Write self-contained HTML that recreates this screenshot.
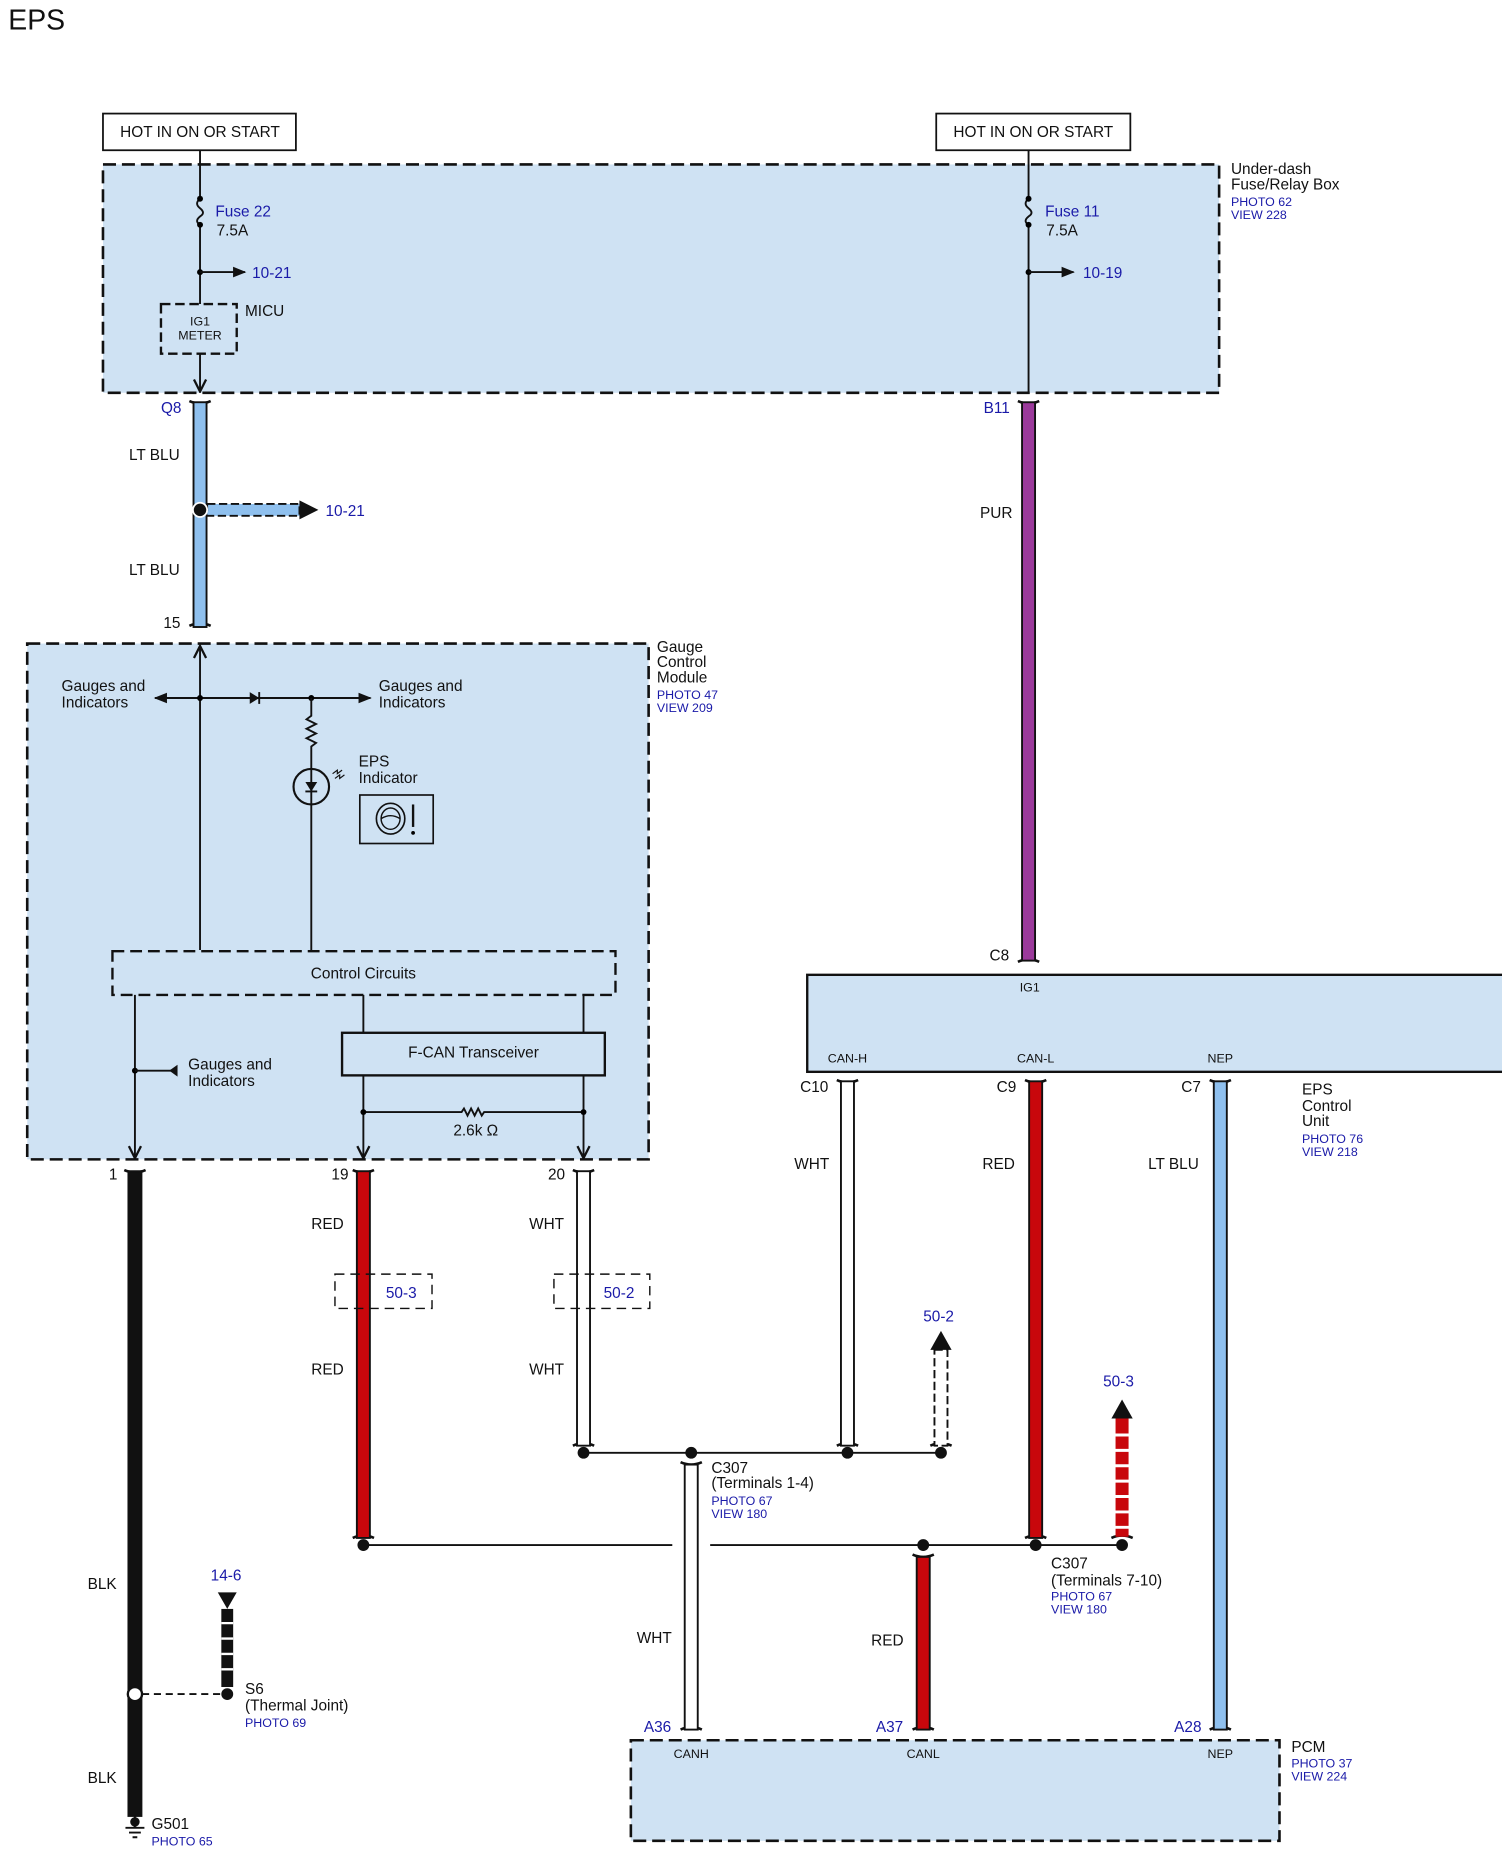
<!DOCTYPE html>
<html><head><meta charset="utf-8"><style>
html,body{margin:0;padding:0;background:#fff}
svg{display:block}
text{font-family:"Liberation Sans",Arial,sans-serif;font-size:13px;fill:#111}
.b{fill:#1a1aa8}
.s{font-size:10.5px}
.box{fill:#cfe2f3;stroke:#111;stroke-width:2.2;stroke-dasharray:11 5}
.ln{stroke:#111;stroke-width:1.6;fill:none}
</style></head><body>
<svg width="1502" height="1855" viewBox="0 0 1269 1568" preserveAspectRatio="none" xmlns="http://www.w3.org/2000/svg">
<defs>
<marker id="ah" viewBox="0 0 10 10" refX="9" refY="5" markerWidth="7" markerHeight="7" orient="auto"><path d="M0,1 L10,5 L0,9 z" fill="#111"/></marker>
<marker id="oa" viewBox="0 0 10 10" refX="9" refY="5" markerWidth="8" markerHeight="8" orient="auto"><path d="M1,1 L9,5 L1,9" fill="none" stroke="#111" stroke-width="1.5"/></marker>
</defs>
<text x="7" y="25" style="font-size:24px">EPS</text>

<rect x="87" y="96" width="163" height="31" fill="#fff" stroke="#111" stroke-width="1.5"/>
<text x="169" y="116" text-anchor="middle">HOT IN ON OR START</text>
<rect x="791" y="96" width="164" height="31" fill="#fff" stroke="#111" stroke-width="1.5"/>
<text x="873" y="116" text-anchor="middle">HOT IN ON OR START</text>

<rect class="box" x="87" y="139" width="943" height="193"/>
<text x="1040" y="147">Under-dash</text><text x="1040" y="160">Fuse/Relay Box</text>
<text x="1040" y="174" class="b s">PHOTO 62</text><text x="1040" y="185" class="b s">VIEW 228</text>

<g>
<path class="ln" d="M169,127 V168 M169,190 V257"/>
<path class="ln" d="M169,168 q-5,4 0,8 q5,4 0,7 q-5,4 0,7"/>
<circle cx="169" cy="168" r="2.5"/><circle cx="169" cy="190" r="2.5"/>
<text x="182" y="183" class="b">Fuse 22</text><text x="183" y="199">7.5A</text>
<circle cx="169" cy="230" r="2.5"/><path class="ln" d="M169,230 H207" marker-end="url(#ah)"/>
<text x="213" y="235" class="b">10-21</text>
<rect x="136" y="257" width="64" height="42" fill="none" stroke="#111" stroke-width="2" stroke-dasharray="8 4"/>
<text x="169" y="275" class="s" text-anchor="middle">IG1</text><text x="169" y="287" class="s" text-anchor="middle">METER</text>
<text x="207" y="267">MICU</text>
<path class="ln" d="M169,299 V331" marker-end="url(#oa)"/>
</g>
<g>
<path class="ln" d="M869,127 V168 M869,190 V332"/>
<path class="ln" d="M869,168 q-5,4 0,8 q5,4 0,7 q-5,4 0,7"/>
<circle cx="869" cy="168" r="2.5"/><circle cx="869" cy="190" r="2.5"/>
<text x="883" y="183" class="b">Fuse 11</text><text x="884" y="199">7.5A</text>
<circle cx="869" cy="230" r="2.5"/><path class="ln" d="M869,230 H907" marker-end="url(#ah)"/>
<text x="915" y="235" class="b">10-19</text>
</g>

<g stroke="#111" stroke-width="2.2" fill="none">
<path d="M160,339 q9,4 18,0"/><path d="M160,529 q9,-4 18,0"/>
<path d="M860,339 q9,4 18,0"/><path d="M860,813 q9,-4 18,0"/>
<path d="M105,989 q9,4 18,0"/><path d="M298,989 q9,4 18,0"/><path d="M484,989 q9,4 18,0"/>
<path d="M707,913 q9,4 18,0"/><path d="M866,913 q9,4 18,0"/><path d="M1022,913 q9,4 18,0"/>
<path d="M484,1222 q9,-4 18,0"/><path d="M707,1222 q9,-4 18,0"/><path d="M786,1222 q9,-4 18,0"/>
<path d="M298,1300 q9,-4 18,0"/><path d="M866,1300 q9,-4 18,0"/><path d="M939,1300 q9,-4 18,0"/>
<path d="M575,1236 q9,4 18,0"/><path d="M771,1314 q9,4 18,0"/>
<path d="M575,1462 q9,-4 18,0"/><path d="M771,1462 q9,-4 18,0"/><path d="M1022,1462 q9,-4 18,0"/>
</g>

<rect x="163.5" y="340" width="11" height="190" fill="#8fc0ee" stroke="#111" stroke-width="1.6"/>
<text x="136" y="349" class="b">Q8</text>
<text x="109" y="389">LT BLU</text><text x="109" y="486">LT BLU</text>
<text x="138" y="531">15</text>
<rect x="175" y="426" width="78" height="10" fill="#8fc0ee" stroke="#111" stroke-width="1.6" stroke-dasharray="7 3"/>
<path d="M253,423 L269,431 L253,439 z" fill="#111"/>
<circle cx="169" cy="431" r="6" fill="#111" stroke="#fff" stroke-width="1.5"/>
<text x="275" y="436" class="b">10-21</text>

<rect x="863.5" y="340" width="11" height="472" fill="#9b3a9b" stroke="#111" stroke-width="1.6"/>
<text x="831" y="349" class="b">B11</text><text x="828" y="438">PUR</text>
<text x="836" y="812">C8</text>

<rect class="box" x="23" y="544" width="525" height="436"/>
<text x="555" y="551">Gauge</text><text x="555" y="564">Control</text><text x="555" y="577">Module</text>
<text x="555" y="591" class="b s">PHOTO 47</text><text x="555" y="602" class="b s">VIEW 209</text>
<path class="ln" d="M169,803 V546" marker-end="url(#oa)"/>
<path class="ln" d="M169,590 H131" marker-end="url(#ah)"/>
<path class="ln" d="M169,590 H313" marker-end="url(#ah)"/>
<path d="M211,585 L219,590 L211,595 z" fill="#111"/><path class="ln" d="M219,585 V595"/>
<circle cx="169" cy="590" r="2.5"/><circle cx="263" cy="590" r="2.5"/>
<path class="ln" d="M263,590 V605 l-4,3 l8,4 l-8,4 l8,4 l-8,4 l8,4 l-4,3 V650 M263,680 V803"/>
<circle cx="263" cy="665" r="15" fill="none" stroke="#111" stroke-width="1.8"/>
<path class="ln" d="M263,650 V680"/><path d="M258,661 L268,661 L263,669 z" fill="#111"/><path class="ln" d="M258,669 H268"/>
<path class="ln" d="M281,654 l4,-3 l0,3 l4,-3 M283,658 l4,-3 l0,3 l4,-3" style="stroke-width:1"/>
<text x="52" y="584">Gauges and</text><text x="52" y="598">Indicators</text>
<text x="320" y="584">Gauges and</text><text x="320" y="598">Indicators</text>
<text x="303" y="648">EPS</text><text x="303" y="662">Indicator</text>
<rect x="304" y="672" width="62" height="41" fill="none" stroke="#111" stroke-width="1.4"/>
<ellipse cx="330" cy="692" rx="12" ry="13" fill="none" stroke="#111" stroke-width="1.4"/>
<ellipse cx="330" cy="692" rx="8" ry="9" fill="none" stroke="#111" stroke-width="1.2"/>
<path class="ln" d="M322,692 q8,-5 16,0" style="stroke-width:1.2"/>
<path class="ln" d="M349,680 V699" style="stroke-width:2"/><circle cx="349" cy="704" r="1.6"/>
<rect x="95" y="804" width="425" height="37" fill="none" stroke="#111" stroke-width="2" stroke-dasharray="10 5"/>
<text x="307" y="827" text-anchor="middle">Control Circuits</text>
<path class="ln" d="M114,841 V979" marker-end="url(#oa)"/>
<circle cx="114" cy="905" r="2.5"/><path class="ln" d="M114,905 H146"/>
<path d="M150,900 L143,905 L150,910 z" fill="#111"/>
<text x="159" y="904">Gauges and</text><text x="159" y="918">Indicators</text>
<path class="ln" d="M307,841 V873 M493,841 V873"/>
<rect x="289" y="873" width="222" height="36" fill="none" stroke="#111" stroke-width="2"/>
<text x="400" y="894" text-anchor="middle">F-CAN Transceiver</text>
<path class="ln" d="M307,909 V979" marker-end="url(#oa)"/><path class="ln" d="M493,909 V979" marker-end="url(#oa)"/>
<path class="ln" d="M307,940 H390 l2,-3 l3,6 l3,-6 l3,6 l3,-6 l3,6 l2,-3 H493"/>
<circle cx="307" cy="940" r="2.5"/><circle cx="493" cy="940" r="2.5"/>
<text x="383" y="960">2.6k Ω</text>
<text x="92" y="997">1</text><text x="280" y="997">19</text><text x="463" y="997">20</text>

<rect x="108.5" y="990" width="11" height="545" fill="#111" stroke="#111" stroke-width="1.6"/>
<text x="74" y="1343">BLK</text><text x="74" y="1507">BLK</text>
<path class="ln" d="M120,1432 H188" style="stroke-dasharray:6 4"/>
<circle cx="114" cy="1432" r="6" fill="#fff" stroke="#111" stroke-width="2"/>
<circle cx="192" cy="1432" r="5" fill="#111"/>
<rect x="187" y="1360" width="10" height="66" fill="#111"/>
<g stroke="#fff" stroke-width="2"><path d="M187,1372 H197 M187,1385 H197 M187,1398 H197 M187,1411 H197"/></g>
<path d="M184,1346 L200,1346 L192,1360 z" fill="#111"/>
<text x="178" y="1336" class="b">14-6</text>
<text x="207" y="1432">S6</text><text x="207" y="1446">(Thermal Joint)</text><text x="207" y="1460" class="b s">PHOTO 69</text>
<path class="ln" d="M114,1535 V1545 M106,1545 H122 M109,1549 H119 M112,1553 H116" style="stroke-width:1.6"/>
<circle cx="114" cy="1540" r="4" fill="#111"/>
<text x="128" y="1546">G501</text><text x="128" y="1560" class="b s">PHOTO 65</text>

<rect x="301.5" y="990" width="11" height="310" fill="#c8070c" stroke="#111" stroke-width="1.6"/>
<text x="263" y="1039">RED</text><text x="263" y="1162">RED</text>
<rect x="283" y="1077" width="82" height="29" fill="none" stroke="#111" stroke-width="1.2" stroke-dasharray="8 5"/>
<text x="326" y="1097" class="b">50-3</text>
<rect x="487.5" y="990" width="11" height="232" fill="#fff" stroke="#111" stroke-width="1.6"/>
<text x="447" y="1039">WHT</text><text x="447" y="1162">WHT</text>
<rect x="468" y="1077" width="81" height="29" fill="none" stroke="#111" stroke-width="1.2" stroke-dasharray="8 5"/>
<text x="510" y="1097" class="b">50-2</text>

<path class="ln" d="M493,1228 H795"/>
<path class="ln" d="M307,1306 H568 M600,1306 H948"/>
<g fill="#111">
<circle cx="493" cy="1228" r="5"/><circle cx="584" cy="1228" r="5"/><circle cx="716" cy="1228" r="5"/><circle cx="795" cy="1228" r="5"/>
<circle cx="307" cy="1306" r="5"/><circle cx="780" cy="1306" r="5"/><circle cx="875" cy="1306" r="5"/><circle cx="948" cy="1306" r="5"/>
</g>
<rect x="578.5" y="1238" width="11" height="224" fill="#fff" stroke="#111" stroke-width="1.6"/>
<text x="538" y="1389">WHT</text>
<text x="601" y="1245">C307</text><text x="601" y="1258">(Terminals 1-4)</text>
<text x="601" y="1272" class="b s">PHOTO 67</text><text x="601" y="1283" class="b s">VIEW 180</text>

<rect x="682" y="824" width="600" height="82" fill="#cfe2f3" stroke="#111" stroke-width="2"/>
<text x="870" y="838" class="s" text-anchor="middle">IG1</text>
<text x="716" y="898" class="s" text-anchor="middle">CAN-H</text>
<text x="875" y="898" class="s" text-anchor="middle">CAN-L</text>
<text x="1031" y="898" class="s" text-anchor="middle">NEP</text>
<text x="1100" y="925">EPS</text><text x="1100" y="939">Control</text><text x="1100" y="952">Unit</text>
<text x="1100" y="966" class="b s">PHOTO 76</text><text x="1100" y="977" class="b s">VIEW 218</text>
<text x="676" y="923">C10</text><text x="842" y="923">C9</text><text x="998" y="923">C7</text>
<rect x="710.5" y="914" width="11" height="308" fill="#fff" stroke="#111" stroke-width="1.6"/>
<text x="671" y="988">WHT</text>
<rect x="869.5" y="914" width="11" height="386" fill="#c8070c" stroke="#111" stroke-width="1.6"/>
<text x="830" y="988">RED</text>
<rect x="1025.5" y="914" width="11" height="548" fill="#8fc0ee" stroke="#111" stroke-width="1.6"/>
<text x="970" y="988">LT BLU</text>

<rect x="789.5" y="1141" width="11" height="81" fill="#fff" stroke="#111" stroke-width="1.6" stroke-dasharray="7 3"/>
<path d="M786,1141 L795,1125 L804,1141 z" fill="#111"/>
<text x="780" y="1117" class="b">50-2</text>
<rect x="942.5" y="1199" width="11" height="100" fill="#c8070c"/>
<g stroke="#fff" stroke-width="2.5"><path d="M942,1213 H955 M942,1226 H955 M942,1239 H955 M942,1252 H955 M942,1265 H955 M942,1278 H955 M942,1291 H955"/></g>
<path d="M939,1199 L948,1183 L957,1199 z" fill="#111"/>
<text x="932" y="1172" class="b">50-3</text>

<rect x="774.5" y="1316" width="11" height="146" fill="#c8070c" stroke="#111" stroke-width="1.6"/>
<text x="736" y="1391">RED</text>
<text x="888" y="1326">C307</text><text x="888" y="1340">(Terminals 7-10)</text>
<text x="888" y="1353" class="b s">PHOTO 67</text><text x="888" y="1364" class="b s">VIEW 180</text>

<rect class="box" x="533" y="1471" width="548" height="85"/>
<text x="544" y="1464" class="b">A36</text><text x="740" y="1464" class="b">A37</text><text x="992" y="1464" class="b">A28</text>
<text x="584" y="1486" class="s" text-anchor="middle">CANH</text>
<text x="780" y="1486" class="s" text-anchor="middle">CANL</text>
<text x="1031" y="1486" class="s" text-anchor="middle">NEP</text>
<text x="1091" y="1481">PCM</text><text x="1091" y="1494" class="b s">PHOTO 37</text><text x="1091" y="1505" class="b s">VIEW 224</text>
</svg>
</body></html>
